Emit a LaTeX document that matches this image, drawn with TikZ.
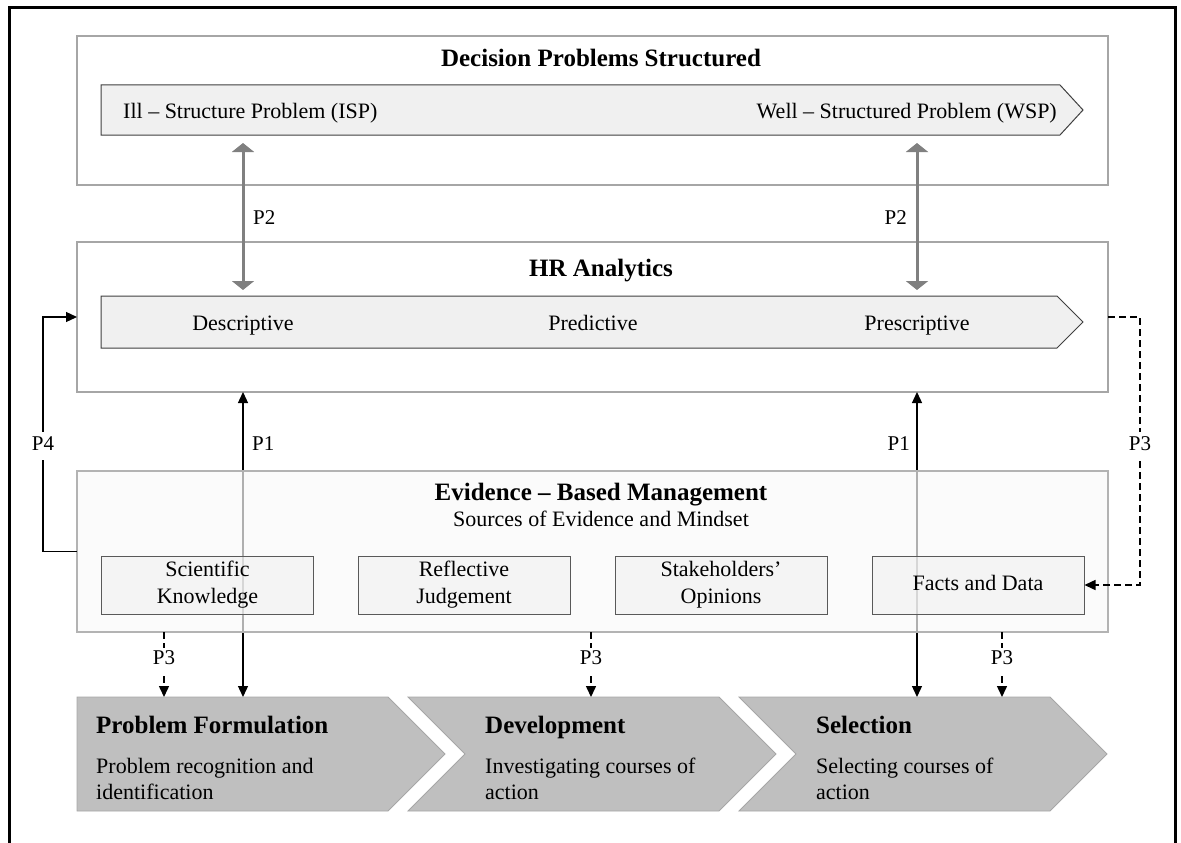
\documentclass[tikz,border=0pt]{standalone}
\usepackage{fontspec}
\setmainfont{Liberation Serif}
\usetikzlibrary{arrows.meta}

\definecolor{framegray}{HTML}{A6A6A6}
\definecolor{bandfill}{HTML}{F0F0F0}
\definecolor{banddraw}{HTML}{404040}
\definecolor{chevfill}{HTML}{BFBFBF}
\definecolor{chevdraw}{HTML}{A6A6A6}
\definecolor{linkgray}{HTML}{808080}
\definecolor{ebmfill}{HTML}{FAFAFA}
\definecolor{srcdraw}{HTML}{595959}

\tikzset{
  panel/.style={draw=framegray, line width=1.3pt, fill=white, minimum width=1031pt,
    anchor=north west, inner sep=0pt, outer sep=0pt},
  band/.style={draw=banddraw, line width=1pt, fill=bandfill},
  chevron/.style={draw=chevdraw, line width=0.8pt, fill=chevfill},
  txt/.style={font=\fontsize{22}{27}\selectfont, inner sep=0pt, text height=15pt, text depth=4.8pt},
  multitxt/.style={font=\fontsize{22}{26.5}\selectfont, inner sep=0pt, align=left},
  ttl/.style={font=\fontsize{25}{28}\selectfont\bfseries, inner sep=0pt, text height=17pt, text depth=5.5pt},
  plab/.style={font=\fontsize{21}{24}\selectfont, inner sep=0pt, text height=14.3pt, text depth=4.6pt},
  gaplab/.style={plab, fill=white, inner xsep=1pt, inner ysep=5pt},
  source/.style={draw=srcdraw, line width=1pt, fill=bandfill, fill opacity=0.6, text opacity=1,
    minimum width=212pt, minimum height=58pt, inner sep=0pt, align=center,
    font=\fontsize{22}{27}\selectfont},
  twoway/.style={draw=linkgray, line width=3pt,
    {Triangle[length=9pt,width=22pt]}-{Triangle[length=9pt,width=22pt]}},
  solidlink/.style={draw=black, line width=1.3pt,
    {Triangle[length=11pt,width=10pt]}-{Triangle[length=11pt,width=10pt]}},
  onelink/.style={draw=black, line width=1.3pt, -{Triangle[length=11pt,width=10pt]}},
  dashlink/.style={draw=black, line width=1.5pt, dash pattern=on 7pt off 4pt,
    -{Triangle[length=11pt,width=10pt]}},
}

\begin{document}
\begin{tikzpicture}[x=1pt, y=-1pt]
\useasboundingbox (0,0) rectangle (1181,843);

% outer frame, open at the bottom
\draw[line width=3pt] (9.5,900) -- (9.5,7.5) -- (1175,7.5) -- (1175,900);

% ---- Decision problems structured ----
\node[panel, minimum height=149pt] (dps) at (77,36) {};
\node[ttl] (dpstitle) at (601,61) {Decision Problems Structured};
\draw[band] (101,85) -- (1060,85) -- (1083,110) -- (1060,135) -- (101,135) -- cycle;
\coordinate (b1s) at (592,135);
\node[txt, anchor=west] (isp) at (123,113) {Ill – Structure Problem (ISP)};
\node[txt, anchor=east] (wsp) at (1057,113) {Well – Structured Problem (WSP)};

% ---- HR analytics ----
\node[panel, minimum height=150pt] (hra) at (77,242) {};
\node[ttl] (hratitle) at (601,271) {HR Analytics};
\draw[band] (101,296) -- (1057,296) -- (1083,322) -- (1057,348) -- (101,348) -- cycle;
\coordinate (b2n) at (592,296);
\node[txt] (desc) at (243,325) {Descriptive};
\node[txt] (pred) at (593,325) {Predictive};
\node[txt] (presc) at (917,325) {Prescriptive};

% ---- decision process chevrons ----
\draw[chevron] (77,697) -- (388,697) -- (445,754) -- (388,811) -- (77,811) -- cycle;
\draw[chevron] (408,697) -- (719,697) -- (776,754) -- (719,811) -- (408,811) -- (465,754) -- cycle;
\draw[chevron] (739,697) -- (1050,697) -- (1107,754) -- (1050,811) -- (739,811) -- (796,754) -- cycle;
\coordinate (ctop) at (592,697);
\node[ttl, anchor=west] (pfh) at (96,728) {Problem Formulation};
\node[multitxt, anchor=west] (pfd) at (96,779) {Problem recognition and\\identification};
\node[ttl, anchor=west] (devh) at (485,728) {Development};
\node[multitxt, anchor=west] (devd) at (485,779) {Investigating courses of\\action};
\node[ttl, anchor=west] (selh) at (816,728) {Selection};
\node[multitxt, anchor=west] (seld) at (816,779) {Selecting courses of\\action};

% ---- P1: evidence links between analytics and process ----
\draw[solidlink] (desc |- ctop) -- (desc |- hra.south);
\draw[solidlink] (presc |- ctop) -- (presc |- hra.south);
\node[plab, anchor=west] (p1a) at (252,446) {P1};
\node[plab, anchor=east] (p1b) at (910,446) {P1};

% ---- Evidence-based management ----
\node[panel, minimum height=161pt, draw=framegray!85, fill=ebmfill, fill opacity=0.7] (ebm) at (77,471) {};
\node[ttl] (ebmtitle) at (601,495) {Evidence – Based Management};
\node[txt] (ebmsub) at (601,521) {Sources of Evidence and Mindset};
\node[source] (sci) at (207.5,585) {Scientific\\Knowledge};
\node[source] (refl) at (464,585) {Reflective\\Judgement};
\node[source] (stake) at (721,585) {Stakeholders’\\Opinions};
\node[source, text height=15pt, text depth=4.8pt] (facts) at (978,585) {Facts and Data};

% ---- P4 feedback loop ----
\draw[onelink] (ebm.west) -- ++(-34,0) |- (hra.west);
\node[gaplab] (p4) at (43,446) {P4};

% ---- P3 links ----
\draw[dashlink] (hra.east) -- ++(32,0) |- (facts.east);
\node[gaplab] (p3r) at (1140,446) {P3};
\coordinate (p3x1) at (164,632);
\coordinate (p3x2) at (591,632);
\coordinate (p3x3) at (1002,632);
\draw[dashlink] (p3x1) -- (p3x1 |- ctop);
\draw[dashlink] (p3x2) -- (p3x2 |- ctop);
\draw[dashlink] (p3x3) -- (p3x3 |- ctop);
\node[gaplab, inner ysep=3pt] (p3a) at (164,660) {P3};
\node[gaplab, inner ysep=3pt] (p3b) at (591,660) {P3};
\node[gaplab, inner ysep=3pt] (p3c) at (1002,660) {P3};

% ---- P2 links between problem structure and analytics ----
\draw[twoway, shorten <=8pt, shorten >=6pt] (desc |- b1s) -- (desc |- b2n);
\draw[twoway, shorten <=8pt, shorten >=6pt] (presc |- b1s) -- (presc |- b2n);
\node[plab, anchor=west] (p2a) at (253,220) {P2};
\node[plab, anchor=east] (p2b) at (907,220) {P2};
\end{tikzpicture}
\end{document}
